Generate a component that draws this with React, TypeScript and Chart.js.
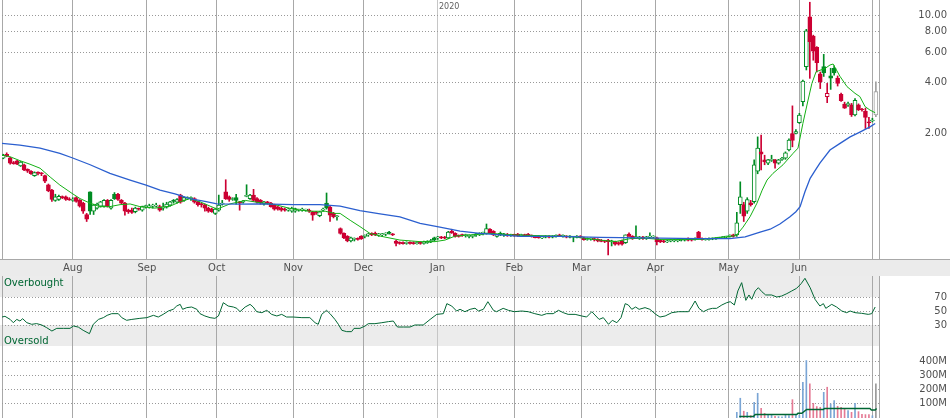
import React, { useEffect, useRef } from "react";
import { Chart, registerables } from "chart.js";
Chart.register(...registerables);

const FONT = '"DejaVu Sans", Verdana, sans-serif';

// ---- time axis (trading-day index) ----
const X_MIN = -0.35;
const X_MAX = 251.9;
const monthTicks = [20.0, 41.3, 61.4, 83.4, 103.6, 124.9, 147.0, 166.3, 187.6, 208.7, 229.0, 250.1];
const monthLabels = ["Aug", "Sep", "Oct", "Nov", "Dec", "Jan", "Feb", "Mar", "Apr", "May", "Jun", ""];
const yearLabel = "2020";
const priceTicks = [2, 4, 6, 8, 10];
const rsiTicks = [30, 50, 70];
const volTicks = [100, 200, 300, 400];

// ---- daily candles ----
const opens = [
  1.42,1.50,1.43,1.34,1.37,1.28,1.30,1.22,1.19,1.12,
  1.17,1.16,1.12,0.99,0.92,0.80,0.81,0.84,0.84,0.81,
  0.80,0.83,0.80,0.77,0.66,0.90,0.69,0.72,0.74,0.74,
  0.80,0.72,0.87,0.87,0.80,0.77,0.70,0.70,0.685,0.715,
  0.70,0.735,0.73,0.74,0.74,0.735,0.72,0.73,0.75,0.80,
  0.78,0.86,0.80,0.82,0.82,0.82,0.785,0.76,0.75,0.72,
  0.71,0.67,0.70,0.76,0.90,0.84,0.81,0.83,0.785,0.78,
  0.845,0.82,0.86,0.82,0.80,0.76,0.78,0.77,0.75,0.73,
  0.72,0.71,0.70,0.69,0.69,0.70,0.70,0.70,0.70,0.685,
  0.68,0.65,0.70,0.77,0.73,0.67,0.64,0.545,0.51,0.49,
  0.46,0.47,0.475,0.49,0.49,0.50,0.51,0.51,0.50,0.50,
  0.505,0.52,0.505,0.46,0.45,0.45,0.445,0.448,0.447,0.444,
  0.448,0.445,0.45,0.456,0.48,0.48,0.485,0.485,0.48,0.525,
  0.51,0.495,0.50,0.495,0.49,0.49,0.50,0.50,0.51,0.51,
  0.54,0.525,0.49,0.51,0.50,0.50,0.495,0.50,0.505,0.495,
  0.50,0.505,0.495,0.49,0.49,0.48,0.485,0.49,0.485,0.49,
  0.50,0.49,0.49,0.485,0.485,0.485,0.49,0.48,0.47,0.472,
  0.475,0.47,0.465,0.46,0.466,0.455,0.456,0.45,0.46,0.45,
  0.505,0.49,0.48,0.48,0.485,0.48,0.485,0.485,0.48,0.465,
  0.46,0.455,0.46,0.46,0.462,0.465,0.466,0.475,0.47,0.47,
  0.52,0.475,0.468,0.47,0.472,0.474,0.478,0.482,0.485,0.49,
  0.50,0.50,0.755,0.755,0.69,0.775,0.786,1.19,1.55,1.39,
  1.33,1.38,1.39,1.33,1.40,1.42,1.59,1.99,2.00,2.31,
  3.07,4.94,9.77,7.5,6.44,4.48,4.95,3.29,4.36,4.84,
  4.23,3.39,2.97,2.95,2.94,2.56,2.94,2.76,2.69,2.31,
  2.36,2.56,
];
const highs = [
  1.50,1.53,1.44,1.36,1.38,1.36,1.31,1.23,1.20,1.18,
  1.18,1.17,1.13,1.00,0.93,0.87,0.86,0.85,0.85,0.83,
  0.83,0.84,0.81,0.78,0.67,0.90,0.76,0.77,0.79,0.81,
  0.81,0.81,0.89,0.88,0.81,0.78,0.71,0.72,0.73,0.72,
  0.74,0.75,0.76,0.76,0.77,0.75,0.77,0.78,0.79,0.81,
  0.82,0.87,0.84,0.84,0.84,0.83,0.79,0.77,0.76,0.73,
  0.72,0.72,0.86,0.80,1.06,0.85,0.83,0.87,0.79,0.80,
  0.99,0.87,0.93,0.83,0.81,0.79,0.79,0.78,0.76,0.74,
  0.73,0.72,0.72,0.73,0.72,0.71,0.72,0.71,0.71,0.69,
  0.69,0.69,0.72,0.885,0.74,0.68,0.65,0.55,0.515,0.495,
  0.485,0.48,0.48,0.495,0.50,0.51,0.515,0.52,0.51,0.51,
  0.515,0.525,0.51,0.465,0.455,0.455,0.455,0.455,0.455,0.455,
  0.455,0.46,0.462,0.47,0.485,0.49,0.49,0.49,0.525,0.54,
  0.515,0.50,0.505,0.505,0.50,0.50,0.51,0.515,0.52,0.58,
  0.545,0.53,0.505,0.52,0.51,0.51,0.505,0.505,0.51,0.505,
  0.505,0.51,0.50,0.495,0.495,0.49,0.495,0.495,0.495,0.50,
  0.505,0.50,0.495,0.495,0.49,0.495,0.495,0.485,0.48,0.48,
  0.48,0.475,0.47,0.465,0.47,0.465,0.46,0.455,0.466,0.50,
  0.515,0.495,0.565,0.49,0.49,0.49,0.515,0.495,0.485,0.47,
  0.465,0.465,0.47,0.47,0.47,0.475,0.475,0.48,0.475,0.48,
  0.525,0.48,0.478,0.48,0.48,0.482,0.485,0.49,0.492,0.50,
  0.505,0.68,1.03,0.78,0.83,0.80,1.39,1.90,1.95,1.48,
  1.40,1.48,1.40,1.40,1.44,1.55,1.85,2.90,2.10,2.62,
  4.12,8.23,11.9,7.6,6.5,4.6,5.85,3.94,4.84,5.0,
  4.36,3.45,3.05,3.05,3.0,3.2,2.98,2.80,2.81,2.48,
  2.45,4.03,
];
const lows = [
  1.41,1.45,1.31,1.31,1.30,1.27,1.20,1.17,1.14,1.11,
  1.13,1.12,1.02,0.90,0.79,0.79,0.80,0.82,0.80,0.80,
  0.79,0.78,0.73,0.67,0.60,0.66,0.66,0.71,0.73,0.73,
  0.73,0.71,0.81,0.80,0.76,0.655,0.67,0.67,0.675,0.70,
  0.69,0.72,0.72,0.72,0.73,0.69,0.70,0.72,0.74,0.77,
  0.77,0.77,0.79,0.81,0.80,0.77,0.74,0.73,0.69,0.68,
  0.68,0.66,0.69,0.75,0.81,0.79,0.80,0.76,0.70,0.77,
  0.84,0.81,0.79,0.77,0.76,0.75,0.76,0.73,0.70,0.70,
  0.69,0.69,0.69,0.68,0.68,0.69,0.69,0.69,0.68,0.61,
  0.66,0.64,0.69,0.71,0.60,0.63,0.61,0.505,0.475,0.455,
  0.455,0.46,0.465,0.47,0.48,0.49,0.495,0.495,0.49,0.49,
  0.495,0.505,0.495,0.43,0.44,0.44,0.44,0.44,0.44,0.44,
  0.44,0.44,0.445,0.45,0.46,0.47,0.475,0.475,0.475,0.51,
  0.485,0.485,0.49,0.485,0.48,0.48,0.49,0.495,0.50,0.505,
  0.51,0.495,0.485,0.495,0.49,0.49,0.49,0.49,0.49,0.49,
  0.49,0.495,0.485,0.48,0.478,0.475,0.48,0.48,0.48,0.485,
  0.488,0.485,0.48,0.48,0.455,0.48,0.48,0.465,0.465,0.465,
  0.46,0.455,0.455,0.45,0.38,0.43,0.435,0.435,0.435,0.445,
  0.49,0.47,0.475,0.47,0.47,0.47,0.48,0.48,0.436,0.45,
  0.45,0.45,0.455,0.455,0.455,0.46,0.46,0.46,0.46,0.465,
  0.475,0.465,0.465,0.465,0.468,0.47,0.475,0.478,0.48,0.485,
  0.485,0.49,0.67,0.60,0.67,0.74,0.77,1.15,1.21,1.30,
  1.30,1.36,1.24,1.31,1.38,1.40,1.57,1.66,1.98,2.28,
  2.90,4.73,4.22,5.4,4.6,3.67,4.33,3.03,3.63,4.4,
  3.80,3.08,2.80,2.88,2.51,2.53,2.72,2.70,2.13,2.13,
  2.33,2.50,
];
const closes = [
  1.48,1.46,1.33,1.32,1.31,1.35,1.21,1.19,1.15,1.17,
  1.16,1.15,1.04,0.91,0.81,0.84,0.845,0.83,0.81,0.805,
  0.81,0.79,0.74,0.69,0.62,0.69,0.75,0.76,0.785,0.80,
  0.74,0.80,0.82,0.81,0.77,0.69,0.685,0.68,0.72,0.71,
  0.735,0.74,0.74,0.745,0.75,0.70,0.73,0.76,0.785,0.79,
  0.81,0.78,0.83,0.83,0.83,0.78,0.755,0.755,0.72,0.69,
  0.685,0.71,0.75,0.77,0.82,0.81,0.815,0.80,0.77,0.785,
  0.85,0.86,0.80,0.78,0.77,0.785,0.775,0.735,0.71,0.71,
  0.70,0.70,0.71,0.72,0.715,0.705,0.705,0.702,0.69,0.655,
  0.675,0.685,0.705,0.72,0.655,0.64,0.645,0.51,0.48,0.46,
  0.48,0.475,0.47,0.475,0.492,0.505,0.50,0.50,0.505,0.506,
  0.51,0.51,0.50,0.445,0.445,0.444,0.448,0.445,0.444,0.448,
  0.445,0.45,0.458,0.462,0.466,0.485,0.48,0.478,0.52,0.515,
  0.49,0.49,0.495,0.50,0.495,0.497,0.505,0.51,0.515,0.545,
  0.515,0.50,0.50,0.50,0.505,0.495,0.50,0.497,0.495,0.50,
  0.495,0.497,0.49,0.482,0.48,0.485,0.49,0.485,0.49,0.495,
  0.49,0.492,0.485,0.488,0.487,0.49,0.485,0.468,0.472,0.475,
  0.468,0.46,0.458,0.457,0.456,0.458,0.44,0.44,0.44,0.50,
  0.49,0.475,0.485,0.485,0.475,0.485,0.487,0.49,0.456,0.455,
  0.455,0.46,0.462,0.465,0.466,0.47,0.47,0.465,0.465,0.475,
  0.48,0.47,0.472,0.474,0.476,0.478,0.482,0.487,0.49,0.495,
  0.49,0.59,0.84,0.645,0.81,0.755,1.30,1.63,1.50,1.35,
  1.39,1.39,1.33,1.39,1.42,1.53,1.82,1.81,2.04,2.56,
  4.07,8.07,6.95,6.1,5.22,4.03,4.55,3.44,4.23,4.55,
  3.94,3.11,2.81,2.96,2.56,3.13,2.75,2.74,2.48,2.30,
  2.39,3.52,
];
// g = close above previous close, r = below, x = current (unfinished) day
const trend =
  "grrrrgrrrg" + "rrrrrggrrr" + "grrrrggggg" + "rggrrrrrgr" + "gggggrgggg" +
  "grgggrrrrr" + "rgggrrggrg" + "ggrrrgrrrr" + "rrggggggrr" + "rgggrrgrrr" +
  "ggrrggrrgg" + "ggrrrrgrrg" + "rgggggrrgr" + "rrrggggggg" + "rrgggrgrrg" +
  "rrrrrggrgg" + "rgrgggrrgg" + "rrrrrgrrrg" + "rrggrgggrr" + "rggggggrrg" +
  "rrgggggggg" + "rggrgrggrr" + "ggrggggrgg" + "ggrrrrgrgg" + "rrrgrgrrrr" +
  "gx";

// ---- moving averages [dayIndex, price] ----
const fastMA: [number, number][] = [
  [-0.35,1.485],[2,1.45],[4.8,1.375],[7.7,1.31],[10.6,1.24],[13.5,1.10],[16.3,0.986],[19.8,0.88],
  [22.1,0.82],[25,0.77],[27.8,0.735],[30.7,0.735],[33.6,0.755],[36.5,0.762],[39.3,0.735],[43.7,0.72],
  [48,0.74],[50.9,0.785],[53.7,0.82],[56.6,0.785],[59.5,0.74],[61.5,0.71],[65.2,0.762],[69.6,0.80],
  [73.9,0.775],[78.2,0.755],[83.4,0.71],[88.2,0.69],[92.6,0.69],[95.4,0.67],[96.9,0.67],[99.8,0.61],
  [102.6,0.56],[105.5,0.51],[108.4,0.492],[114.1,0.466],[119.9,0.456],[124.2,0.456],[127.1,0.466],
  [130,0.492],[134.3,0.50],[140,0.51],[145.8,0.50],[154.4,0.495],[163,0.49],[171.7,0.466],[176,0.456],
  [180.3,0.475],[184.6,0.478],[188.9,0.47],[200.4,0.47],[206.2,0.483],[210,0.492],[211,0.50],
  [212.8,0.556],[214.8,0.64],[216.8,0.77],[218.3,0.92],[219.7,1.056],[221.4,1.156],[224.3,1.30],
  [227.2,1.52],[228.6,1.63],[230,2.28],[231.5,3.14],[232.6,3.94],[233.8,4.62],[236.4,4.83],
  [237.8,5.06],[238.7,5.13],[240.7,4.33],[242.7,3.77],[245,3.44],[246.4,3.29],[247.9,2.87],
  [249.3,2.74],[250.8,2.64],
];
const slowMA: [number, number][] = [
  [-0.35,1.74],[4.8,1.70],[10.6,1.63],[16.3,1.52],[19.8,1.43],[25,1.30],[30.7,1.156],[36.5,1.056],
  [41.1,0.986],[45.1,0.92],[49.4,0.873],[53.7,0.82],[58,0.79],[61.5,0.762],[68.1,0.76],[73.9,0.762],
  [83.4,0.755],[91.1,0.755],[96.9,0.74],[102.6,0.695],[108.4,0.665],[114.1,0.64],[119.9,0.585],
  [125.6,0.555],[131.4,0.526],[137.1,0.51],[142.9,0.50],[148.7,0.49],[160.1,0.49],[171.7,0.483],
  [183.2,0.48],[188.9,0.478],[200.4,0.475],[209,0.475],[213.4,0.486],[217.7,0.52],[220.6,0.54],
  [223.4,0.58],[226.3,0.64],[228,0.686],[229.2,0.735],[230.6,0.90],[232.1,1.08],[233.5,1.20],
  [234.9,1.33],[237.8,1.59],[240.7,1.74],[243.6,1.90],[246.4,2.03],[249.3,2.18],[250.8,2.28],
];

// ---- RSI [dayIndex, value] ----
const rsi: [number, number][] = [
  [-0.35,41.4],[0.5,42.4],[2,38],[2.9,33.3],[3.9,38],[4.8,35.7],[5.6,39],[6.8,33.3],[8.2,31],[9.6,32],
  [11.1,30],[12.5,26.2],[14,21.4],[15.4,25.2],[17.3,25.2],[19.2,25.2],[20.2,28.6],[21.6,27],[23,22.4],
  [24.8,17.6],[25.9,31],[27.4,38],[28.8,40.5],[29.9,43.8],[31.2,46.2],[33.1,46.2],[34.1,40.5],[35.5,36.7],
  [37,38],[39.3,39.5],[41.3,40.5],[43.2,43.8],[44.6,41.4],[46,45.2],[47.5,50],[48.9,52.4],[49.9,57.1],
  [50.9,59.5],[51.6,52.4],[52.8,54.8],[54.2,55.7],[55.7,52.4],[56.6,46.2],[58,42.9],[59.5,40.5],
  [60.9,39.5],[61.9,42.9],[63.3,61.9],[64.7,57.1],[66.2,55.7],[67.2,53.8],[68.1,49],[69.6,55.7],
  [71,59.5],[71.9,55.7],[72.9,49],[74.4,47.6],[75.8,51],[77.2,45.2],[78.7,42.9],[80.1,45.2],[81.5,41.4],
  [83.4,41.4],[85.9,40.5],[88.2,40.5],[89.7,33.3],[90.6,31],[91.6,45.2],[93,51],[94,46.2],[95.4,38],
  [96.4,31],[97.4,22.4],[98.8,20.5],[100.2,20.5],[100.9,25.2],[102.6,25.2],[104.1,28.6],[105,31.9],
  [106.9,31.9],[108.9,33.3],[110.8,34.8],[112.2,35.7],[113.4,27.1],[115.1,27.1],[117,27.1],[118.4,30],
  [120.8,30],[122.8,38],[124.7,45.2],[126.6,46.2],[127.6,60.5],[129,57.1],[130.4,50],[131.4,52.4],
  [132.8,49],[134.3,52.4],[135.7,54],[136.7,50],[138.1,52.4],[139.4,63.3],[141,51],[141.9,49],
  [143.8,53.8],[145.3,51],[147,49],[149.1,50],[151,49],[152.9,46.2],[154.9,43.8],[156.3,46.2],
  [158.2,46.2],[159.7,51],[161.1,47.6],[162.5,45.2],[164.5,45.2],[166.4,42.9],[167.8,41.4],[169.3,49],
  [170.2,44.3],[171.4,38],[172.6,40.5],[174.1,31],[175.2,36.7],[176.5,33.3],[177.7,40.5],[178.9,60.5],
  [179.8,58.6],[180.8,52.4],[181.9,55.7],[182.9,52.4],[184.6,54.8],[186,52.4],[187.7,45.2],[188.9,41.4],
  [190.4,42.9],[192.3,47.6],[194.2,49],[197.1,49],[198,55.7],[199,64.3],[200.1,53.8],[201.4,49],
  [202.8,52.4],[204,53.8],[205.2,53.8],[206.7,58.6],[208.1,61.9],[209.1,63.3],[210.3,58.6],[211.3,78.6],
  [212.4,90.5],[213.6,65.2],[214.5,72.9],[215.3,66.7],[216.3,78.6],[217.2,83.3],[218.2,77.6],
  [219.3,72.9],[221,72.9],[222.5,70],[223.9,71.4],[225.4,74.8],[226.8,78.6],[228.2,82.4],[229.5,89],
  [230.6,96.7],[232.1,83.3],[233.5,66.7],[234.9,57.1],[235.9,60.5],[236.6,53.8],[238.3,59.5],
  [239.7,55.7],[241.2,50],[242.6,47.6],[243.6,50],[245,47.6],[246.9,46.7],[248.8,45.2],[249.8,46.2],
  [250.8,55.7],
];

// ---- volume (millions), starting at day index volStart ----
const volStart = 211;
const volumes = [
  40,140,48,40,17,111,175,69,33,26,
  24,12,10,8,24,17,130,24,20,253,
  407,242,104,81,76,182,218,100,123,83,
  76,64,52,40,104,45,26,24,24,16,
  242,
];
const volMA: [number, number][] = [
  [211.7,10],[215.8,10],[216.3,24],[228.2,24],[228.6,33],[229.7,33],[231.1,60],[235.9,60],
  [236.2,67],[249.3,67],[249.7,57],[250.8,57],[251.2,67],
];

const GREEN = "#008c23";
const RED = "#cc0033";
const GREY = "#a0a0a0";
const colorOf = (t: string) => (t === "g" ? GREEN : t === "r" ? RED : GREY);
const volColorOf = (t: string) => (t === "g" ? "#7aa5d5" : t === "r" ? "#e57b95" : "#9a9a9a");

const AXIS_W = 68;
const PAD = { left: 2, right: 3, top: 0, bottom: 0 };

function xAxis(showLabels: boolean) {
  return {
    type: "linear" as const,
    min: X_MIN,
    max: X_MAX,
    offset: false,
    afterBuildTicks: (s: any) => {
      s.ticks = [X_MIN, ...monthTicks, X_MAX].map((v) => ({ value: v }));
    },
    afterFit: (s: any) => {
      s.height = showLabels ? 17 : 0;
      s.paddingLeft = 0;
      s.paddingRight = 0;
    },
    ticks: {
      display: showLabels,
      autoSkip: false,
      maxRotation: 0,
      minRotation: 0,
      padding: 3,
      color: "#505050",
      font: { size: 10, family: FONT },
      callback: (_v: any, i: number) => (i >= 1 && i <= monthLabels.length ? monthLabels[i - 1] : ""),
    },
    grid: {
      drawTicks: false,
      offset: false,
      lineWidth: 1,
      color: (ctx: any) => (ctx.index === 6 ? "#c6c6c6" : "#a8a8a8"),
    },
    border: { display: false },
  };
}

function yAxis(type: string, min: number, max: number, ticks: number[], fmt: (v: number) => string) {
  return {
    type: type as any,
    position: "right" as const,
    min,
    max,
    afterBuildTicks: (s: any) => {
      s.ticks = ticks.map((v) => ({ value: v }));
    },
    afterFit: (s: any) => {
      s.width = AXIS_W;
      s.paddingTop = 0;
      s.paddingBottom = 0;
    },
    ticks: {
      autoSkip: false,
      crossAlign: "far" as const,
      padding: 0,
      color: "#505050",
      font: { size: 10, family: FONT },
      callback: (v: any) => fmt(Number(v)),
    },
    grid: { drawTicks: false, color: "#999999", lineWidth: 1 },
    border: { display: false, dash: [1, 2] },
  };
}

const baseOpts = {
  responsive: false,
  maintainAspectRatio: false,
  devicePixelRatio: 1,
  animation: false as const,
  layout: { padding: PAD },
  plugins: { legend: { display: false }, tooltip: { enabled: false } },
};

export default function App() {
  const priceRef = useRef<HTMLCanvasElement>(null);
  const rsiRef = useRef<HTMLCanvasElement>(null);
  const volRef = useRef<HTMLCanvasElement>(null);

  useEffect(() => {
    document.body.style.margin = "0";
    const n = Math.min(opens.length, highs.length, lows.length, closes.length, trend.length);
    const idx = Array.from({ length: n }, (_, i) => i);
    const cCol = idx.map((i) => colorOf(trend[i]));
    const fill = idx.map((i) => (closes[i] < opens[i] ? cCol[i] : "#ffffff"));

    const priceDeco = {
      id: "priceDeco",
      beforeDraw(chart: any) {
        const c = chart.ctx;
        const b = chart.chartArea.bottom;
        c.save();
        c.fillStyle = "#ebebeb";
        c.fillRect(0, b + 1, chart.width, chart.height - b - 1);
        c.fillStyle = "#a8a8a8";
        c.fillRect(0, b, chart.width, 1);
        c.restore();
      },
      afterDraw(chart: any) {
        const c = chart.ctx;
        const xs = chart.scales.x;
        c.save();
        c.font = "8px " + FONT;
        c.fillStyle = "#606060";
        c.textBaseline = "top";
        c.textAlign = "left";
        c.fillText(yearLabel, xs.getPixelForValue(monthTicks[5]) + 1.5, 2.5);
        c.restore();
      },
    };

    const price = new Chart(priceRef.current!, {
      type: "bar",
      data: {
        datasets: [
          {
            type: "line",
            data: slowMA.map(([x, y]) => ({ x, y })),
            borderColor: "#2b5fcf",
            borderWidth: 1.3,
            pointRadius: 0,
            tension: 0,
            order: 0,
          } as any,
          {
            type: "line",
            data: fastMA.map(([x, y]) => ({ x, y })),
            borderColor: "#14b014",
            borderWidth: 1,
            pointRadius: 0,
            tension: 0,
            order: 0,
          } as any,
          {
            type: "bar",
            data: idx.map((i) => ({ x: i, y: [opens[i], closes[i]] })),
            backgroundColor: fill,
            borderColor: cCol,
            borderWidth: 1,
            borderSkipped: false,
            barThickness: 4,
            minBarLength: 1,
            grouped: false,
            order: 1,
          } as any,
          {
            type: "bar",
            data: idx.map((i) => ({ x: i, y: [lows[i], highs[i]] })),
            backgroundColor: cCol,
            borderWidth: 0,
            barThickness: 1,
            grouped: false,
            order: 2,
          } as any,
        ],
      },
      options: {
        ...baseOpts,
        scales: {
          x: xAxis(true),
          y: yAxis("logarithmic", 0.36, 12.27, priceTicks, (v) => v.toFixed(2)),
        },
      } as any,
      plugins: [priceDeco],
    });

    const rsiDeco = {
      id: "rsiDeco",
      beforeDraw(chart: any) {
        const c = chart.ctx;
        const ys = chart.scales.y;
        const r = chart.chartArea.right;
        c.save();
        c.fillStyle = "#ececec";
        const y100 = ys.getPixelForValue(100);
        const y70 = ys.getPixelForValue(70);
        const y30 = ys.getPixelForValue(30);
        const y0 = ys.getPixelForValue(0);
        c.fillRect(0, y100, r, y70 - y100);
        c.fillRect(0, y30, r, y0 - y30);
        c.restore();
      },
      afterDraw(chart: any) {
        const c = chart.ctx;
        c.save();
        c.font = "10px " + FONT;
        c.fillStyle = "#006633";
        c.textBaseline = "alphabetic";
        c.textAlign = "left";
        c.fillText("Overbought", 4, 9.5);
        c.fillText("Oversold", 4, 67.5);
        c.restore();
      },
    };

    const rsiChart = new Chart(rsiRef.current!, {
      type: "line",
      data: {
        datasets: [
          {
            data: rsi.map(([x, y]) => ({ x, y })),
            borderColor: "#006633",
            borderWidth: 1,
            pointRadius: 0,
            tension: 0,
          },
        ],
      },
      options: {
        ...baseOpts,
        scales: {
          x: xAxis(false),
          y: yAxis("linear", 0, 100, rsiTicks, (v) => String(v)),
        },
      } as any,
      plugins: [rsiDeco],
    });

    const vols = volumes.map((v, k) => ({ x: volStart + k, y: v }));
    const vCols = volumes.map((_, k) => volColorOf(trend[volStart + k] || "x"));
    const volChart = new Chart(volRef.current!, {
      type: "bar",
      data: {
        datasets: [
          {
            type: "line",
            data: volMA.map(([x, y]) => ({ x, y })),
            borderColor: "#006633",
            borderWidth: 1.5,
            pointRadius: 0,
            tension: 0,
            order: 0,
          } as any,
          {
            type: "bar",
            data: vols,
            backgroundColor: vCols,
            borderWidth: 0,
            barThickness: 1,
            grouped: false,
            order: 1,
          } as any,
        ],
      },
      options: {
        ...baseOpts,
        scales: {
          x: xAxis(false),
          y: yAxis("linear", 0, 510, volTicks, (v) => v + "M"),
        },
      } as any,
    });

    return () => {
      price.destroy();
      rsiChart.destroy();
      volChart.destroy();
    };
  }, []);

  return (
    <div style={{ position: "fixed", left: 0, top: 0, width: 950, height: 418, background: "#ffffff", overflow: "hidden" }}>
      <canvas ref={priceRef} width={950} height={276} style={{ position: "absolute", left: 0, top: 0, width: 950, height: 276 }} />
      <canvas ref={rsiRef} width={950} height={70} style={{ position: "absolute", left: 0, top: 276, width: 950, height: 70 }} />
      <canvas ref={volRef} width={950} height={72} style={{ position: "absolute", left: 0, top: 346, width: 950, height: 72 }} />
    </div>
  );
}
